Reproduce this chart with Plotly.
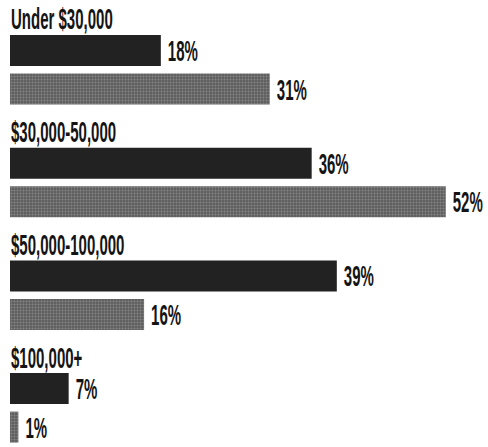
import plotly.graph_objects as go

categories = ["Under $30,000", "$30,000-50,000", "$50,000-100,000", "$100,000+"]
series_dark = [18, 36, 39, 7]
series_gray = [31, 52, 16, 1]

# layout constants (pixels; the y axis is mapped 1:1 to pixels)
W, H = 488, 447
FIRST_DARK = 50.5
STEP = 112.7
GRAY_OFFSET = 38.5
BAR_H = 31
PX_PER_PCT = 8.38
LEFT = 10
FONT = "Liberation Sans, Arial, sans-serif"
FONT_SIZE = 30
SQUEEZE = 0.5  # horizontal condensing of the text glyphs

dark_y = [FIRST_DARK + STEP * i for i in range(len(categories))]
gray_y = [y + GRAY_OFFSET for y in dark_y]

fig = go.Figure()
fig.add_trace(go.Bar(
    x=series_dark, y=dark_y, orientation="h", width=BAR_H,
    marker=dict(color="#222222", line=dict(width=0)),
    text=[f"{v}%" for v in series_dark], textposition="outside",
    constraintext="none",
    textfont=dict(family=FONT, size=FONT_SIZE, color="#141414", weight="bold"),
    cliponaxis=False, hoverinfo="skip", showlegend=False,
))
fig.add_trace(go.Bar(
    x=series_gray, y=gray_y, orientation="h", width=BAR_H,
    marker=dict(color="#686868", line=dict(width=0),
                pattern=dict(shape=".", fgcolor="#868686", bgcolor="#5e5e5e",
                             size=3, solidity=0.35, fillmode="replace")),
    text=[f"{v}%" for v in series_gray], textposition="outside",
    constraintext="none",
    textfont=dict(family=FONT, size=FONT_SIZE, color="#141414", weight="bold"),
    cliponaxis=False, hoverinfo="skip", showlegend=False,
))

for cat, yd in zip(categories, dark_y):
    fig.add_annotation(
        x=0, y=yd - BAR_H / 2 + 2.5, xref="x", yref="y",
        text=cat, showarrow=False,
        xanchor="left", yanchor="bottom", xshift=-1,
        font=dict(family=FONT, size=FONT_SIZE, color="#141414", weight="bold"),
    )

plot_w = W - LEFT
fig.update_layout(
    width=W, height=H,
    margin=dict(l=LEFT, r=0, t=0, b=0),
    paper_bgcolor="white", plot_bgcolor="white",
    barmode="overlay",
    xaxis=dict(range=[0, plot_w / PX_PER_PCT], visible=False, fixedrange=True),
    yaxis=dict(range=[H, 0], visible=False, fixedrange=True),
)

post = """
document.body.style.margin='0';
document.body.style.overflow='hidden';
var gd = document.getElementById('{plot_id}');
var K = %s;
gd.querySelectorAll('text.annotation-text, text.bartext').forEach(function(t){
  var isBar = t.classList.contains('bartext');
  var b = t.getBBox();
  var w = t.getComputedTextLength();
  t.setAttribute('text-anchor','start');
  t.style.textAnchor = 'start';
  t.setAttribute('x', b.x + (isBar ? 4 : 0));
  t.setAttribute('textLength', w * K);
  t.setAttribute('lengthAdjust', 'spacingAndGlyphs');
});
""" % SQUEEZE

fig.write_html("out.html", post_script=post,
               config={"displayModeBar": False, "staticPlot": True})
